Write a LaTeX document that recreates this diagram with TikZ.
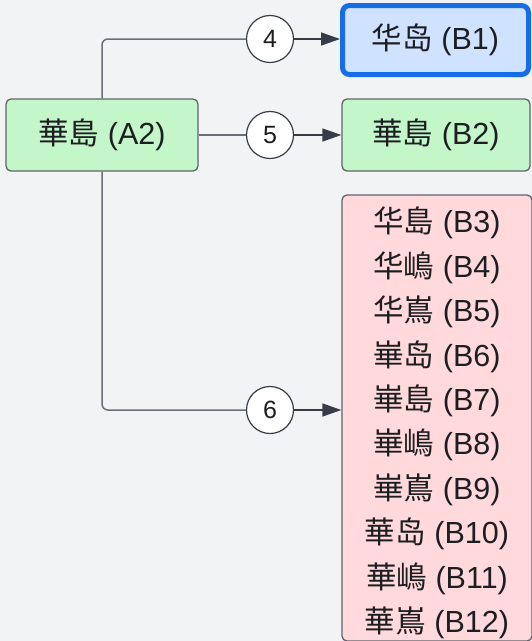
\documentclass[tikz,border=0pt]{standalone}
\usepackage{fontspec}
\setmainfont{Liberation Sans}
\newfontfamily\cjkfont{Noto Sans CJK SC}
\usetikzlibrary{arrows.meta}
\definecolor{bgcol}{RGB}{242,243,245}
\definecolor{greenfill}{RGB}{195,246,201}
\definecolor{bluefill}{RGB}{207,226,255}
\definecolor{blueedge}{RGB}{22,110,230}
\definecolor{pinkfill}{RGB}{255,217,219}
\definecolor{boxedge}{RGB}{95,100,110}
\definecolor{linecol}{RGB}{105,110,120}
\definecolor{tipcol}{RGB}{55,60,70}
\definecolor{txtcol}{RGB}{28,30,33}
\tikzset{
  boxbase/.style={draw=boxedge, line width=1.3pt, rounded corners=5pt, inner sep=0pt,
    text=txtcol, font=\fontsize{30.5}{36}\selectfont},
  greenbox/.style={boxbase, fill=greenfill},
  bluebox/.style={boxbase, fill=bluefill, draw=blueedge, line width=5pt, rounded corners=7pt},
  pinkbox/.style={boxbase, fill=pinkfill},
  numcircle/.style={circle, draw=tipcol, line width=1.2pt, fill=white, minimum size=47pt,
    inner sep=0pt, text=txtcol, font=\fontsize{25}{30}\selectfont},
  conn/.style={draw=linecol, line width=1.5pt, rounded corners=6pt},
  arr/.style={conn, -{Triangle[length=19pt,width=13pt,fill=tipcol]}, tipcol},
  listtext/.style={align=center, text=txtcol, font=\fontsize{30.5}{44.4}\selectfont, inner sep=0pt}
}
\begin{document}
\begin{tikzpicture}[x=1pt,y=-1pt]
\fill[bgcol] (0,0) rectangle (532,641);
\useasboundingbox (0,0) rectangle (532,641);

\node[greenbox, minimum width=192pt, minimum height=72pt] (A2) at (102,135) {{\cjkfont 華島} (A2)};
\node[bluebox, minimum width=186pt, minimum height=69pt] (B1) at (435.5,40) {{\cjkfont 华岛} (B1)};
\node[greenbox, minimum width=188pt, minimum height=72pt] (B2) at (436,135) {{\cjkfont 華島} (B2)};
\node[pinkbox, minimum width=190pt, minimum height=446pt] (B3) at (437,418) {};
\node[listtext] (Blist) at (437,423) {%
{\cjkfont 华島} (B3)\\
{\cjkfont 华嶋} (B4)\\
{\cjkfont 华嶌} (B5)\\
{\cjkfont 崋岛} (B6)\\
{\cjkfont 崋島} (B7)\\
{\cjkfont 崋嶋} (B8)\\
{\cjkfont 崋嶌} (B9)\\
{\cjkfont 華岛} (B10)\\
{\cjkfont 華嶋} (B11)\\
{\cjkfont 華嶌} (B12)};

\node[numcircle] (n4) at (270,39) {4};
\node[numcircle] (n5) at (270,135) {5};
\node[numcircle] (n6) at (270,410) {6};

\coordinate (t6) at (B3.west |- n6);

\draw[conn] (A2.north) |- (n4.west);
\draw[arr] (n4.east) -- (B1.west |- n4);
\draw[conn] (A2.east) -- (n5.west);
\draw[arr] (n5.east) -- (B2.west);
\draw[conn] (A2.south) |- (n6.west);
\draw[arr] (n6.east) -- (t6);
\end{tikzpicture}
\end{document}
